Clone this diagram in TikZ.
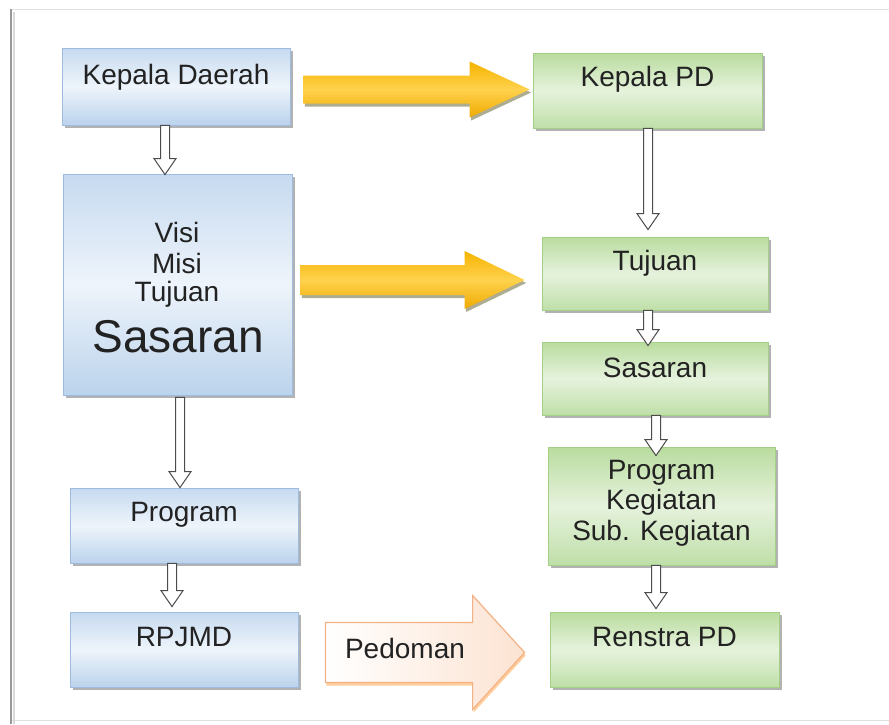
\documentclass[tikz,border=0pt]{standalone}
\usepackage{fontspec}
\setmainfont{Liberation Sans}
\usetikzlibrary{shadows,calc}
\definecolor{txt}{HTML}{222222}
\definecolor{bluetop}{HTML}{C6DAF0}
\definecolor{bluemid}{HTML}{EEF4FB}
\definecolor{bluebot}{HTML}{BBD3EC}
\definecolor{blueline}{HTML}{9EBCE0}
\definecolor{greentop}{HTML}{B9DC9E}
\definecolor{greenmid}{HTML}{E6F2DD}
\definecolor{greenbot}{HTML}{BFDFA8}
\definecolor{greenline}{HTML}{A3CF86}
\definecolor{yelA}{HTML}{F5B300}
\definecolor{yelB}{HTML}{FFD24D}
\definecolor{yelC}{HTML}{EFAA00}
\definecolor{peach}{HTML}{F4B183}
\definecolor{peachfill}{HTML}{FCE3D2}
\tikzset{
  box/.style={rectangle, line width=0.8pt,
    drop shadow={shadow xshift=2.5pt, shadow yshift=-3pt, opacity=0.55, fill=black!55}},
  bluebox/.style={box, draw=blueline, top color=bluetop, bottom color=bluebot, middle color=bluemid},
  greenbox/.style={box, draw=greenline, top color=greentop, bottom color=greenbot, middle color=greenmid},
  lbl/.style={text=txt, font=\fontsize{28}{30.5}\selectfont, align=center, inner sep=0pt},
  hollow/.style={draw=black!70, fill=white, line width=1pt, line join=miter,
    to path={let \p1=(\tikztostart), \p2=(\tikztotarget) in
      (\x1-4.5pt,\y1) -- (\x1+4.5pt,\y1) -- (\x1+4.5pt,\y2+16pt) -- (\x1+11pt,\y2+16pt)
      -- (\x1,\y2) -- (\x1-11pt,\y2+16pt) -- (\x1-4.5pt,\y2+16pt) -- cycle}},
  fat/.style n args={3}{
    to path={let \p1=(\tikztostart), \p2=(\tikztotarget) in
      (\x1,\y1+#1) -- (\x2-#3,\y1+#1) -- (\x2-#3,\y1+#2) -- (\x2,\y1)
      -- (\x2-#3,\y1-#2) -- (\x2-#3,\y1-#1) -- (\x1,\y1-#1) -- cycle}},
  yellow/.style={top color=yelA, bottom color=yelC, middle color=yelB, draw=none,
    drop shadow={shadow xshift=1.5pt, shadow yshift=-3pt, opacity=0.6, fill=black!60!yellow}},
  pedo/.style={draw=peach, line width=1.2pt, left color=white, right color=peachfill,
    drop shadow={shadow xshift=1pt, shadow yshift=-3pt, opacity=0.55, fill=orange!70}}
}
\begin{document}
\begin{tikzpicture}[x=1pt,y=-1pt]
\useasboundingbox (0,0) rectangle (889,724);
% frame
\fill[white] (0,0) rectangle (889,724);
\draw[black!12, line width=1pt] (11,9) -- (889,9);
\draw[black!12, line width=1pt] (11,720) -- (889,720);
\draw[black!40, line width=2pt] (11,9) -- (11,724);
\draw[black!15, line width=2pt] (14,12) -- (14,724);

% left column
\node[bluebox, minimum width=228pt, minimum height=77pt] (kd) at (176,86.5) {};
\node[lbl] (kdt) at (176,77) {Kepala Daerah};
\node[bluebox, minimum width=229pt, minimum height=221pt] (visi) at (177.5,284.5) {};
\node[lbl] (visit) at (177,232) {Visi};
\node[lbl] (misit) at (177,263) {Misi};
\node[lbl] (tujlt) at (177,294) {Tujuan};
\node[text=txt, inner sep=0pt, font=\fontsize{46}{50}\selectfont] (sasl) at (178,337) {Sasaran};
\node[bluebox, minimum width=228pt, minimum height=75pt] (progl) at (184,525.5) {};
\node[lbl] (proglt) at (184,515) {Program};
\node[bluebox, minimum width=228pt, minimum height=75pt] (rpjmd) at (184,649.5) {};
\node[lbl] (rpjmdt) at (184,637) {RPJMD};

% right column
\node[greenbox, minimum width=229pt, minimum height=75pt] (kpd) at (647.5,90.5) {};
\node[lbl] (kpdt) at (647.5,79) {Kepala PD};
\node[greenbox, minimum width=226pt, minimum height=73pt] (tuj) at (655,273.5) {};
\node[lbl] (tujt) at (655,263) {Tujuan};
\node[greenbox, minimum width=226pt, minimum height=73pt] (sas) at (655,378.5) {};
\node[lbl] (sast) at (655,368) {Sasaran};
\node[greenbox, minimum width=227pt, minimum height=118pt] (pk) at (661.5,506) {};
\node[lbl] (pkt) at (661.5,503) {Program\\Kegiatan\\Sub. Kegiatan};
\node[greenbox, minimum width=229pt, minimum height=75pt] (ren) at (664.5,649.5) {};
\node[lbl] (rent) at (664.5,637) {Renstra PD};

% hollow down arrows
\draw[hollow] ([xshift=-11pt]kd.south) to ([xshift=-11pt,yshift=-1pt]kd.south |- visi.north);
\draw[hollow] ([xshift=2.5pt,yshift=-2pt]visi.south) to ([xshift=2.5pt]visi.south |- progl.north);
\draw[hollow] ([xshift=-12pt]progl.south) to ([xshift=-12pt,yshift=5pt]progl.south |- rpjmd.north);
\draw[hollow] ([xshift=0.5pt]kpd.south) to ([xshift=0.5pt,yshift=7pt]kpd.south |- tuj.north);
\draw[hollow] ([xshift=-7pt]tuj.south) to ([xshift=-7pt,yshift=-4pt]tuj.south |- sas.north);
\draw[hollow] ([xshift=1pt]sas.south) to ([xshift=1pt,yshift=-9pt]sas.south |- pk.north);
\draw[hollow] ([xshift=-5.5pt]pk.south) to ([xshift=-5.5pt,yshift=3pt]pk.south |- ren.north);

% yellow arrows
\draw[yellow, fat={14pt}{28pt}{60pt}] ([xshift=13pt,yshift=-3pt]kd.east) to ([xshift=-3pt]kpd.west);
\draw[yellow, fat={15pt}{29pt}{60pt}] ([xshift=8pt,yshift=4.5pt]visi.east) to ([xshift=-17pt,yshift=-5pt]tuj.west);
% pedoman arrow
\draw[pedo, fat={30pt}{57pt}{52pt}] ([xshift=27pt,yshift=-3pt]rpjmd.east) to ([xshift=-25pt,yshift=-3pt]ren.west);
\node[lbl] (pedt) at (405,648) {Pedoman};
\end{tikzpicture}
\end{document}
